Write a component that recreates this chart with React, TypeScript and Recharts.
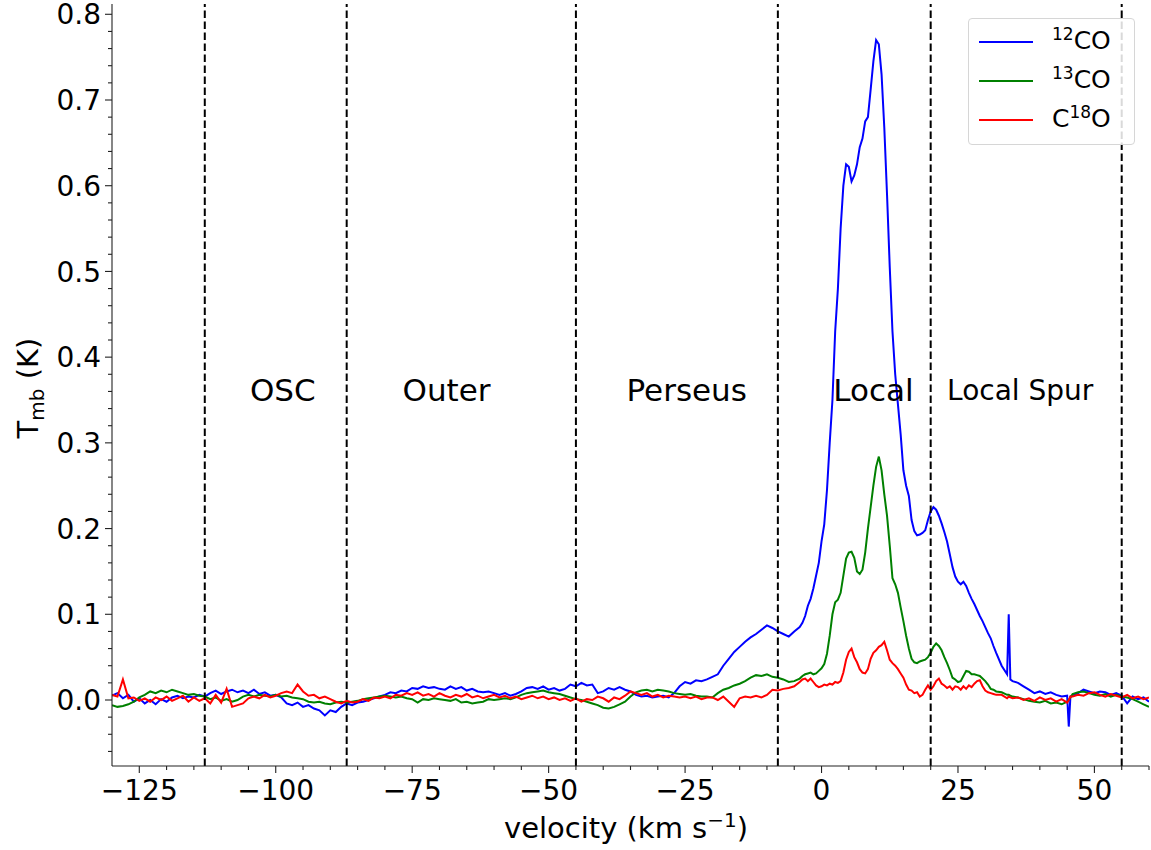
import React from 'react';
import { LineChart, Line, XAxis, YAxis, ReferenceLine, ReferenceDot } from 'recharts';

const FONT = '"DejaVu Sans", sans-serif';

// channel velocities (km/s): coarse outside the emission, finer across it
const VEL_LOW = [
  -130, -129, -128, -127, -126, -125, -124, -123, -122, -121,
  -120, -119, -118, -117, -116, -115, -114, -113, -112, -111,
  -110, -109, -108, -107, -106, -105, -104, -103, -102, -101,
  -100, -99, -98, -97, -96, -95, -94, -93, -92, -91,
  -90, -89, -88, -87, -86, -85, -84, -83, -82, -81,
  -80, -79, -78, -77, -76, -75, -74, -73, -72, -71,
  -70, -69, -68, -67, -66, -65, -64, -63, -62, -61,
  -60, -59, -58, -57, -56, -55, -54, -53, -52, -51,
  -50, -49, -48, -47, -46, -45, -44, -43, -42, -41,
  -40, -39, -38, -37, -36, -35, -34, -33, -32, -31,
  -30, -29, -28, -27, -26, -25, -24, -23, -22, -21,
  -20, -19, -18, -17, -16, -15, -14, -13, -12, -11,
  -10, -9, -8, -7, -6, -5, -4,
];
const VEL_PEAK = [
  -3.5, -3, -2.5, -2, -1.5, -1, -0.5, 0, 0.5, 1,
  1.5, 2, 2.5, 3, 3.5, 4, 4.5, 5, 5.5, 6,
  6.5, 7, 7.5, 8, 8.5, 9, 9.5, 10, 10.5, 11,
  11.5, 12, 12.5, 13, 13.5, 14, 14.5, 15, 15.5, 16,
  16.5, 17, 17.5, 18, 18.5, 19, 19.5, 20, 20.5, 21,
  21.5, 22, 22.5, 23, 23.5, 24, 24.5, 25, 25.5, 26,
  26.5, 27, 27.5, 28, 28.5, 29, 29.5, 30, 30.5, 31,
  31.5, 32,
];
const VEL_HIGH = [
  33, 34, 34.3, 34.6, 35, 36, 37, 38, 39, 40,
  41, 42, 43, 44, 45, 45.3, 45.6, 46, 47, 48,
  49, 50, 51, 52, 53, 54, 55, 56, 57, 58,
  59, 60,
];

// 12CO Tmb (K)
const CO12_LOW = [
  0.005, 0.008, 0.002, 0.006, -0.002, 0.002, -0.004, 0.0, -0.005, 0.001,
  -0.002, 0.003, 0.005, 0.002, 0.004, 0.003, 0.006, 0.004, 0.008, 0.011,
  0.007, 0.01, 0.012, 0.009, 0.011, 0.008, 0.012, 0.007, 0.009, 0.005,
  0.006, 0.003, -0.004, -0.006, -0.003, -0.008, -0.006, -0.01, -0.012, -0.018,
  -0.012, -0.014, -0.008, -0.004, -0.006, -0.003, -0.002, 0.0, 0.002, 0.004,
  0.006, 0.009, 0.008, 0.011, 0.01, 0.014, 0.013, 0.016, 0.014, 0.015,
  0.013, 0.012, 0.016, 0.013, 0.015, 0.011, 0.013, 0.01, 0.009, 0.01,
  0.008, 0.006, 0.008, 0.005, 0.007, 0.01, 0.014, 0.015, 0.013, 0.016,
  0.012, 0.014, 0.011, 0.013, 0.018, 0.016, 0.02, 0.017, 0.018, 0.008,
  0.01, 0.014, 0.012, 0.015, 0.012, 0.01, 0.006, 0.004, 0.005, 0.003,
  0.004, 0.005, 0.003, 0.008, 0.016, 0.021, 0.019, 0.023, 0.022, 0.024,
  0.027, 0.03, 0.04, 0.048, 0.056, 0.062, 0.068, 0.073, 0.077, 0.082,
  0.087, 0.084, 0.08, 0.077, 0.074, 0.08, 0.085,
];
const CO12_PEAK = [
  0.09, 0.098, 0.11, 0.118, 0.13, 0.145, 0.16, 0.185, 0.205, 0.245,
  0.3, 0.35, 0.43, 0.48, 0.55, 0.6, 0.625, 0.622, 0.605, 0.612,
  0.625, 0.645, 0.655, 0.675, 0.68, 0.712, 0.745, 0.77, 0.765, 0.73,
  0.668, 0.59, 0.505, 0.43, 0.38, 0.345, 0.31, 0.268, 0.25, 0.238,
  0.21, 0.197, 0.192, 0.193, 0.195, 0.198, 0.21, 0.22, 0.225, 0.222,
  0.215, 0.206, 0.196, 0.185, 0.17, 0.155, 0.144, 0.138, 0.135, 0.138,
  0.133, 0.125, 0.118, 0.112, 0.105, 0.098, 0.092, 0.085, 0.078, 0.072,
  0.063, 0.055,
];
const CO12_HIGH = [
  0.04, 0.03, 0.1, 0.024, 0.022, 0.02, 0.016, 0.012, 0.008, 0.01,
  0.007, 0.009, 0.006, 0.004, 0.005, -0.031, 0.004, 0.005, 0.008, 0.012,
  0.01, 0.008, 0.01, 0.009, 0.006, 0.008, 0.005, -0.004, 0.004, 0.001,
  0.003, -0.002,
];

// 13CO Tmb (K)
const CO13_LOW = [
  -0.006, -0.008, -0.007, -0.005, -0.002, 0.003, 0.006, 0.01, 0.008, 0.011,
  0.009, 0.012, 0.01, 0.008, 0.006, 0.007, 0.005, 0.004, 0.001, 0.003,
  -0.001, 0.001, -0.002, 0.0, 0.004, 0.006, 0.004, 0.006, 0.005, 0.004,
  0.006, 0.004, 0.005, 0.003, 0.002, 0.001, -0.002, -0.003, -0.002, -0.004,
  -0.005, -0.003, -0.002, -0.003, -0.002, -0.001, 0.001, 0.002, 0.003, 0.004,
  0.005, 0.004, 0.003, 0.004, 0.002, 0.001, -0.003, 0.001, 0.0, 0.002,
  0.001, 0.0, -0.001, 0.001, -0.003, -0.002, -0.004, -0.003, -0.002, 0.001,
  0.0, 0.001, 0.002, 0.001, 0.003, 0.006, 0.008, 0.009, 0.01, 0.011,
  0.009, 0.008, 0.007, 0.005, 0.003, 0.001, 0.0, -0.002, -0.004, -0.006,
  -0.009, -0.01, -0.008, -0.005, -0.002, 0.004, 0.009, 0.011, 0.012, 0.01,
  0.012, 0.011, 0.01, 0.008, 0.007, 0.006, 0.007, 0.005, 0.004, 0.004,
  0.003, 0.008, 0.012, 0.014, 0.017, 0.019, 0.022, 0.026, 0.029, 0.028,
  0.03, 0.027, 0.026, 0.024, 0.021, 0.022, 0.025,
];
const CO13_PEAK = [
  0.028, 0.03, 0.031, 0.032, 0.03, 0.031, 0.034, 0.037, 0.042, 0.054,
  0.075, 0.1, 0.114, 0.117, 0.125, 0.145, 0.165, 0.172, 0.173, 0.166,
  0.15, 0.147, 0.152, 0.172, 0.2, 0.225, 0.25, 0.272, 0.284, 0.268,
  0.24, 0.215, 0.18, 0.142, 0.135, 0.125, 0.108, 0.092, 0.075, 0.06,
  0.048, 0.044, 0.043, 0.045, 0.046, 0.047, 0.05, 0.055, 0.062, 0.066,
  0.063, 0.058, 0.05, 0.043, 0.035, 0.026, 0.024, 0.021, 0.022, 0.028,
  0.034, 0.033, 0.03, 0.03, 0.029, 0.028, 0.025, 0.022, 0.018, 0.013,
  0.012, 0.01,
];
const CO13_HIGH = [
  0.009, 0.006, 0.006, 0.005, 0.004, 0.003, 0.001, -0.001, -0.002, -0.003,
  -0.001, -0.004, -0.003, -0.005, -0.002, 0.0, 0.003, 0.007, 0.009, 0.01,
  0.008, 0.006, 0.005, 0.007, 0.004, 0.006, 0.004, 0.003, 0.001, -0.002,
  -0.005, -0.008,
];

// C18O Tmb (K)
const C18O_LOW = [
  0.006, 0.004, 0.024, 0.002, 0.003, -0.001, 0.002, -0.002, 0.003, 0.0,
  0.004, -0.001, 0.002, 0.005, -0.002, 0.003, -0.001, 0.002, -0.004, 0.006,
  -0.003, 0.013, -0.008, -0.006, -0.004, 0.002, 0.004, 0.002, 0.006, 0.003,
  0.005, 0.008, 0.01, 0.008, 0.018, 0.01, 0.005, 0.006, 0.002, 0.004,
  0.001, -0.002, -0.004, -0.001, -0.003, -0.002, 0.001, -0.001, 0.003, 0.002,
  0.004, 0.002, 0.006, 0.005, 0.008, 0.006, 0.009, 0.005, 0.007, 0.004,
  0.008, 0.005, 0.003, 0.006, 0.004, 0.007, 0.003, 0.005, 0.002, 0.004,
  0.006, 0.003, 0.005, 0.002, 0.004, 0.001, 0.003, 0.005, 0.002, 0.004,
  0.001, 0.003, 0.0, 0.002, -0.001, 0.002, -0.002, 0.001, 0.0, 0.004,
  0.002, -0.002, 0.003, 0.001, 0.005, 0.01, 0.008, 0.006, 0.008, 0.004,
  0.006, 0.003, 0.005, 0.004, 0.003, 0.004, 0.002, 0.004, 0.001, 0.003,
  0.003, 0.0, 0.004, -0.002, -0.008, 0.002, 0.004, 0.003, 0.005, 0.003,
  0.006, 0.012, 0.011, 0.013, 0.014, 0.016, 0.021,
];
const C18O_PEAK = [
  0.024, 0.025, 0.022, 0.025, 0.021, 0.017, 0.015, 0.016, 0.018, 0.017,
  0.019, 0.018, 0.021, 0.02, 0.022, 0.032, 0.047, 0.056, 0.06, 0.05,
  0.044, 0.036, 0.032, 0.031, 0.036, 0.048, 0.055, 0.058, 0.062, 0.064,
  0.068, 0.058, 0.047, 0.043, 0.04, 0.036, 0.031, 0.026, 0.018, 0.012,
  0.011, 0.008, 0.009, 0.004, 0.006, 0.012, 0.017, 0.012, 0.016, 0.022,
  0.025, 0.019, 0.017, 0.014, 0.016, 0.012, 0.016, 0.015, 0.012, 0.016,
  0.013, 0.017, 0.015, 0.019, 0.022, 0.023, 0.016, 0.011, 0.009, 0.008,
  0.007, 0.006,
];
const C18O_HIGH = [
  0.006, 0.002, 0.004, 0.003, 0.002, 0.003, 0.0, 0.002, -0.001, 0.003,
  0.0, 0.002, -0.002, 0.001, -0.003, 0.0, 0.004, 0.004, 0.006, 0.005,
  0.008, 0.009, 0.006, 0.004, 0.007, 0.005, 0.003, 0.006, 0.002, 0.004,
  0.001, 0.003,
];

// spiral-arm boundaries and labels
const BOUNDARIES = [-113, -87, -45, -8, 20, 55];
const REGION_NAMES = ['OSC', 'Outer', 'Perseus', 'Local', 'Local Spur'];
const REGION_CENTERS = [-98.7, -68.7, -24.7, 9.5, 36.4];
const REGION_SIZES = [31, 31, 31, 31, 28];
const REGION_LEVEL = 0.3615;

const X_MAJOR = [-125, -100, -75, -50, -25, 0, 25, 50];
const Y_MAJOR = [0, 0.1, 0.2, 0.3, 0.4, 0.5, 0.6, 0.7, 0.8];
const X_DOMAIN = [-130, 60];
const Y_DOMAIN = [-0.077, 0.812];

const SERIES = [
  { key: 'co12', color: '#0000ff', iso: '12', pre: '', post: 'CO' },
  { key: 'co13', color: '#008000', iso: '13', pre: '', post: 'CO' },
  { key: 'c18o', color: '#ff0000', iso: '18', pre: 'C', post: 'O' },
];

const VELOCITY = [...VEL_LOW, ...VEL_PEAK, ...VEL_HIGH];
const CO12 = [...CO12_LOW, ...CO12_PEAK, ...CO12_HIGH];
const CO13 = [...CO13_LOW, ...CO13_PEAK, ...CO13_HIGH];
const C18O = [...C18O_LOW, ...C18O_PEAK, ...C18O_HIGH];

const chartData = VELOCITY.map((v, i) => ({ v, co12: CO12[i], co13: CO13[i], c18o: C18O[i] }));

// minor ticks every 5 km/s and 0.02 K
const xTicks: number[] = [];
for (let t = -125; t <= 60; t += 5) xTicks.push(t);
const yTicks: number[] = [];
for (let k = -3; k <= 40; k++) yTicks.push(Math.round(k * 2) / 100);

const AXIS_COLOR = '#222';
const TICK_FONT = 28;

const XTick = (props: any) => {
  const { x, y, payload } = props;
  const v = payload.value;
  const major = X_MAJOR.includes(v);
  const label = v < 0 ? '\u2212' + Math.abs(v) : String(v);
  return (
    <g>
      <line x1={x} x2={x} y1={y} y2={y + (major ? 7 : 4)} stroke={AXIS_COLOR} strokeWidth={1.1} />
      {major && (
        <text x={x} y={y + 34} textAnchor="middle" fontSize={TICK_FONT} fontFamily={FONT} fill="#000">
          {label}
        </text>
      )}
    </g>
  );
};

const YTick = (props: any) => {
  const { x, y, payload } = props;
  const v = payload.value;
  const major = Y_MAJOR.some((m) => Math.abs(m - v) < 1e-6);
  return (
    <g>
      <line x1={x} x2={x - (major ? 7 : 4)} y1={y} y2={y} stroke={AXIS_COLOR} strokeWidth={1.1} />
      {major && (
        <text x={x - 11} y={y} dy="0.36em" textAnchor="end" fontSize={TICK_FONT} fontFamily={FONT} fill="#000">
          {v.toFixed(1)}
        </text>
      )}
    </g>
  );
};

const App = () => {
  return (
    <div style={{ position: 'absolute', left: 0, top: 0, width: 1151, height: 850, background: '#fff', fontFamily: FONT }}>
      <LineChart width={1151} height={850} data={chartData} margin={{ top: 4, right: 2, bottom: 0, left: 0 }}>
        <XAxis
          dataKey="v"
          type="number"
          domain={X_DOMAIN}
          allowDataOverflow
          ticks={xTicks}
          interval={0}
          tick={<XTick />}
          tickLine={false}
          tickSize={0}
          tickMargin={0}
          height={84}
          axisLine={{ stroke: AXIS_COLOR, strokeWidth: 1.1 }}
        />
        <XAxis
          xAxisId="top"
          orientation="top"
          dataKey="v"
          type="number"
          domain={X_DOMAIN}
          allowDataOverflow
          height={0}
          tick={false}
          tickLine={false}
          axisLine={{ stroke: AXIS_COLOR, strokeWidth: 1.1 }}
        />
        <YAxis
          type="number"
          domain={Y_DOMAIN}
          allowDataOverflow
          ticks={yTicks}
          interval={0}
          tick={<YTick />}
          tickLine={false}
          tickSize={0}
          tickMargin={0}
          width={112}
          axisLine={{ stroke: AXIS_COLOR, strokeWidth: 1.1 }}
        />
        <YAxis
          yAxisId="right"
          orientation="right"
          type="number"
          domain={Y_DOMAIN}
          allowDataOverflow
          width={0}
          tick={false}
          tickLine={false}
          axisLine={{ stroke: AXIS_COLOR, strokeWidth: 1.1 }}
        />
        {SERIES.map((s) => (
          <Line
            key={s.key}
            type="linear"
            dataKey={s.key}
            stroke={s.color}
            strokeWidth={2}
            dot={false}
            activeDot={false}
            isAnimationActive={false}
          />
        ))}
        {BOUNDARIES.map((b) => (
          <ReferenceLine key={b} x={b} stroke="#000" strokeWidth={2} strokeDasharray="7.5 3.5" />
        ))}
        {REGION_NAMES.map((name, i) => (
          <ReferenceDot
            key={name}
            x={REGION_CENTERS[i]}
            y={REGION_LEVEL}
            r={0}
            fill="none"
            stroke="none"
            label={{ value: name, position: 'center', fontSize: REGION_SIZES[i], fill: '#000', fontFamily: FONT }}
          />
        ))}
      </LineChart>

      {/* axis titles */}
      <div
        style={{
          position: 'absolute',
          left: 30,
          top: 388,
          transform: 'translate(-50%, -50%) rotate(-90deg)',
          whiteSpace: 'nowrap',
          fontSize: 29,
        }}
      >
        T<sub style={{ fontSize: 20, verticalAlign: '-6px' }}>mb</sub> (K)
      </div>
      <div
        style={{
          position: 'absolute',
          left: 626,
          top: 826,
          transform: 'translate(-50%, -50%)',
          whiteSpace: 'nowrap',
          fontSize: 29,
        }}
      >
        velocity (km s<sup style={{ fontSize: 20, verticalAlign: '11px' }}>{'\u22121'}</sup>)
      </div>

      {/* legend */}
      <div
        style={{
          position: 'absolute',
          left: 968,
          top: 18,
          width: 167,
          height: 127,
          border: '1px solid #d6d6d6',
          borderRadius: 4,
          background: 'rgba(255,255,255,0.85)',
          boxSizing: 'border-box',
        }}
      >
        {SERIES.map((s, i) => (
          <div key={s.key} style={{ position: 'absolute', left: 0, top: 23 + i * 39, width: '100%' }}>
            <div style={{ position: 'absolute', left: 10, top: -1, width: 54, height: 2, background: s.color }} />
            <div style={{ position: 'absolute', left: 83, top: -16, fontSize: 25, lineHeight: '30px', whiteSpace: 'nowrap' }}>
              {s.pre}
              <sup style={{ fontSize: 17, verticalAlign: '9px', lineHeight: 0 }}>{s.iso}</sup>
              {s.post}
            </div>
          </div>
        ))}
      </div>
    </div>
  );
};

export default App;
